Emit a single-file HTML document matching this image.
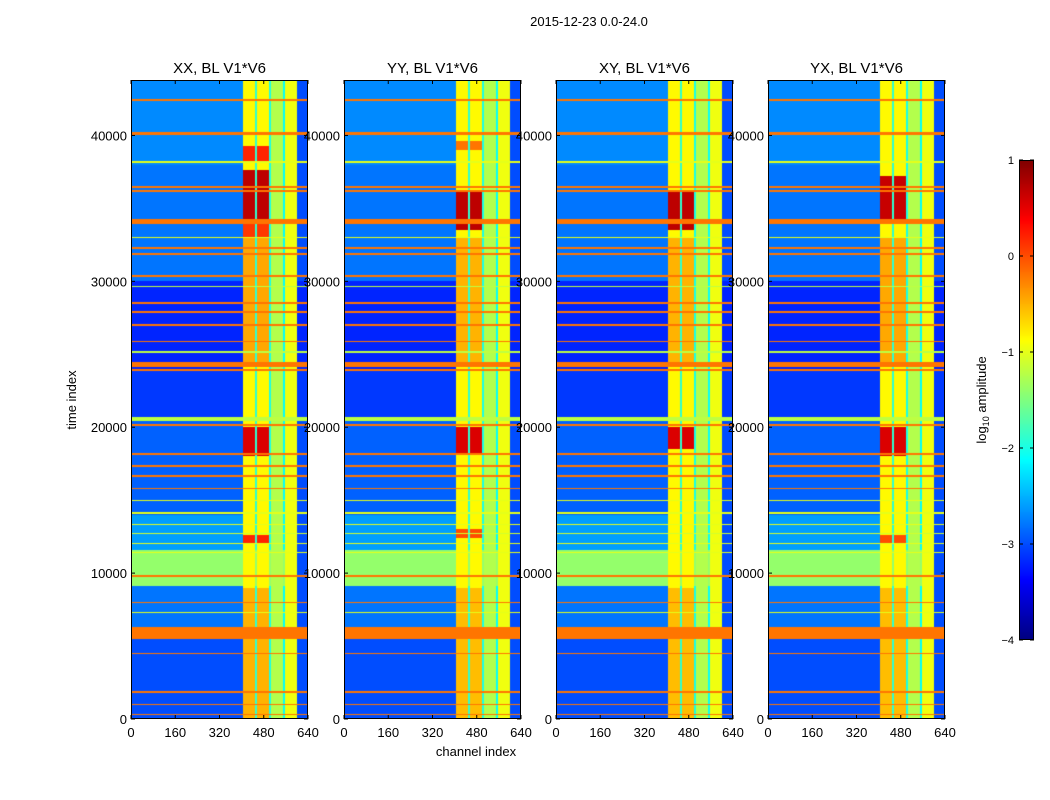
<!DOCTYPE html>
<html><head><meta charset="utf-8">
<style>
body{margin:0;background:#fff;width:1050px;height:800px;position:relative;overflow:hidden;font-family:"Liberation Sans",sans-serif;}
canvas{position:absolute;}
svg{position:absolute;left:0;top:0;}
text{font-family:"Liberation Sans",sans-serif;fill:#000;}
</style></head><body>
<div id="charts"></div>
<svg id="ov" width="1050" height="800"></svg>
<script>
// ---- data ----
const panelTitles = ["XX, BL V1*V6","YY, BL V1*V6","XY, BL V1*V6","YX, BL V1*V6"];
const xTicks = [0,160,320,480,640];
const yTicks = [0,10000,20000,30000,40000];
const cbTicks = [1,0,-1,-2,-3,-4];
const timeMax = 43800, chanMax = 640;
// channel bands [c0,c1,log amplitude]
const chanBands = [[404,448,-0.85],[448,455,-1.9],[455,500,-0.85],[500,506,-2.0],[506,548,-1.25],[548,557,-2.1],[557,599,-0.95],[599,640,-3.0]];
// background time bands [t0,t1,log amplitude]
const bgBands = [[38000,43800,-2.7],[30000,38000,-2.8],[24000,30000,-3.2],[20700,24000,-3.1],[14000,20700,-2.9],[11600,14000,-2.6],[9100,11600,-1.4],[6300,9100,-2.8],[0,6300,-3.0]];
// full-width lines [t0,t1,log amplitude]
const lines = [[42350,42500,-0.2],[40000,40250,-0.2],[38100,38250,-1.0],[36420,36560,-0.2],[36150,36250,-0.2],[33930,34260,-0.2],[32950,33050,-1.0],[32250,32370,-0.2],[31830,31930,-0.2],[30270,30420,-0.2],[29600,29700,-1.2],[28480,28600,-0.2],[27830,27950,-0.2],[26950,27050,-0.2],[25820,25940,-0.2],[25120,25240,-1.2],[24120,24480,-0.2],[23870,23970,-0.2],[20430,20700,-1.2],[20100,20200,-0.2],[18130,18250,-0.2],[17290,17410,-0.2],[16600,16700,-0.2],[15760,15860,-0.2],[14920,15020,-1],[14080,14180,-1],[13300,13380,-1],[12700,12780,-1.1],[12000,12080,-1],[11400,11480,-1],[9750,9860,-0.2],[7940,8050,-0.2],[7250,7350,-1],[5470,6310,-0.2],[4440,4540,-0.2],[1800,1900,-0.2],[940,1040,-0.2],[260,340,-0.2]];
// hot spots in bright channels (404-500) per panel [t0,t1,log amplitude]
const hotXX = [[38200,39300,0.2],[34200,37600,0.7],[33000,34000,0.1],[24500,33000,-0.45],[18000,20000,0.55],[12000,12600,0.2],[0,9000,-0.5]];
const hotYY = [[39000,39600,-0.2],[33500,36200,0.7],[24500,33000,-0.5],[18200,20000,0.55],[12400,13000,0],[0,9000,-0.55]];
const hotXY = [[33500,36200,0.7],[24500,33000,-0.5],[18500,20000,0.55],[0,9000,-0.55]];
const hotYX = [[34000,37200,0.65],[24500,33000,-0.45],[18000,20000,0.55],[12000,12600,0],[0,9000,-0.55]];
const hotSets = [hotXX,hotYY,hotXY,hotYX];

// ---- layout ----
const panelX = [131,344,556,768], PW=177, PT=80, PH=639;
const cbX=1019, cbY=160, cbW=15, cbH=480;
function xs(c,i){return panelX[i]+c/chanMax*PW;}
function ys(t){return PT+PH-t/timeMax*PH;}
function jet(v){let t=(v+4)/5;t=Math.max(0,Math.min(1,t));
 const f=x=>Math.round(255*Math.max(0,Math.min(1,x)));
 return [f(1.5-Math.abs(4*t-3)),f(1.5-Math.abs(4*t-2)),f(1.5-Math.abs(4*t-1))];}
function valueAt(t,c,p){
 for(const l of lines) if(t>=l[0]&&t<l[1]) return l[2];
 let v=-3;
 for(const b of bgBands) if(t>=b[0]&&t<b[1]) {v=b[2];break;}
 for(const b of chanBands) if(c>=b[0]&&c<b[1]){ if(b[0]>=599) v=Math.min(v,b[2]); else v=Math.max(v,b[2]); }
 if((c>=404&&c<448)||(c>=455&&c<500)) for(const h of hotSets[p]) if(t>=h[0]&&t<h[1]){v=Math.max(v,h[2]);break;}
 return v;}
const host=document.getElementById('charts');
for(let p=0;p<4;p++){
 const cv=document.createElement('canvas');
 
 
 cv.width=PW;cv.height=PH;cv.style.left=panelX[p]+'px';cv.style.top=PT+'px';
 const ctx=cv.getContext('2d');const img=ctx.createImageData(PW,PH);
 for(let y=0;y<PH;y++){const t=(PH-y-0.5)/PH*timeMax;
  for(let x=0;x<PW;x++){const c=(x+0.5)/PW*chanMax;const col=jet(valueAt(t,c,p));
   const k=(y*PW+x)*4;img.data[k]=col[0];img.data[k+1]=col[1];img.data[k+2]=col[2];img.data[k+3]=255;}}
 ctx.putImageData(img,0,0);host.appendChild(cv);
}
// colorbar
const cb=document.createElement('canvas');


cb.width=cbW;cb.height=cbH;cb.style.left=cbX+'px';cb.style.top=cbY+'px';
{const ctx=cb.getContext('2d');for(let y=0;y<cbH;y++){const v=1-5*(y+0.5)/cbH;const c=jet(v);ctx.fillStyle=`rgb(${c[0]},${c[1]},${c[2]})`;ctx.fillRect(0,y,cbW,1);}}
host.appendChild(cb);

// ---- overlay ----
const ov=document.getElementById('ov');const NS='http://www.w3.org/2000/svg';
function el(tag,attrs,txt){const e=document.createElementNS(NS,tag);for(const k in attrs)e.setAttribute(k,attrs[k]);if(txt!==undefined)e.textContent=txt;ov.appendChild(e);return e;}
let e=el('text',{x:589,y:26,'font-size':13,'text-anchor':'middle'},'2015-12-23 0.0-24.0');


for(let p=0;p<4;p++){
 const x0=panelX[p];
 e=el('rect',{x:x0+0.5,y:PT+0.5,width:PW-1,height:PH-1,fill:'none',stroke:'#000','stroke-width':1});
 
 
 e=el('text',{x:x0+PW/2,y:73,'font-size':15,'text-anchor':'middle'},panelTitles[p]);
 
 
 for(const c of xTicks){const x=xs(c,p);
  el('line',{x1:x,x2:x,y1:PT+PH,y2:PT+PH-4,stroke:'#000'});el('line',{x1:x,x2:x,y1:PT,y2:PT+4,stroke:'#000'});
  e=el('text',{x:x,y:737,'font-size':13,'text-anchor':'middle'},String(c));
  
  }
 for(const t of yTicks){const y=ys(t);
  el('line',{x1:x0,x2:x0+4,y1:y,y2:y,stroke:'#000'});el('line',{x1:x0+PW-4,x2:x0+PW,y1:y,y2:y,stroke:'#000'});
  e=el('text',{x:x0-4,y:y+5,'font-size':13,'text-anchor':'end'},String(t));
  
  }
}
e=el('text',{x:476,y:756,'font-size':13,'text-anchor':'middle'},'channel index');


e=el('text',{x:0,y:0,'font-size':13,'text-anchor':'middle',transform:'translate(76,400) rotate(-90)'},'time index');


e=el('rect',{x:cbX+0.5,y:cbY+0.5,width:cbW-1,height:cbH-1,fill:'none',stroke:'#000'});


for(const v of cbTicks){const y=cbY+(1-v)/5*cbH;
 el('line',{x1:cbX,x2:cbX+4,y1:y,y2:y,stroke:'#000'});el('line',{x1:cbX+cbW-4,x2:cbX+cbW,y1:y,y2:y,stroke:'#000'});
 e=el('text',{x:1014,y:y+4,'font-size':11,'text-anchor':'end'},v<0?'\u2212'+(-v):String(v));
 
 }
e=el('text',{x:0,y:0,'font-size':13,'text-anchor':'middle',transform:'translate(986,400) rotate(-90)'});
e.innerHTML='log<tspan font-size="9" dy="3">10</tspan><tspan dy="-3"> amplitude</tspan>';


</script>
</body></html>
